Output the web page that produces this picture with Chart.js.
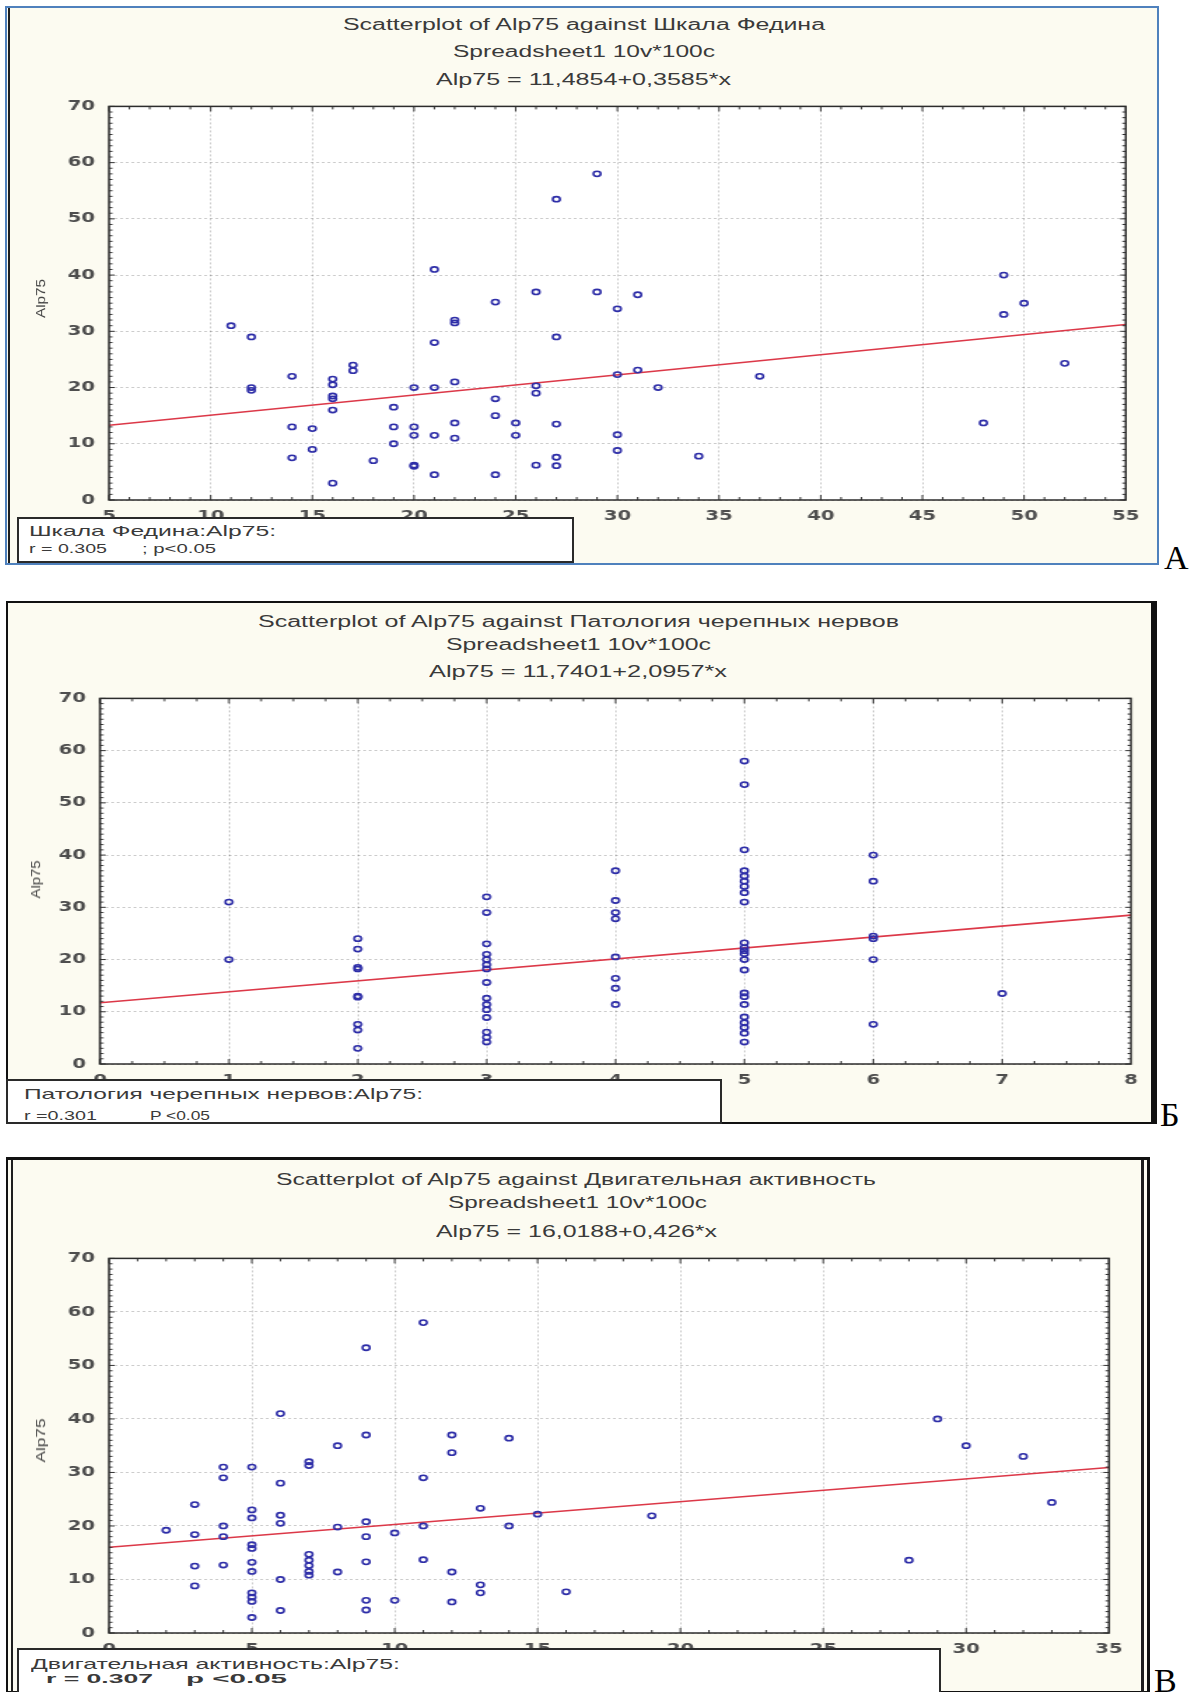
<!DOCTYPE html>
<html>
<head>
<meta charset="utf-8">
<title>Scatterplots of Alp75</title>
<script src="https://cdn.jsdelivr.net/npm/chart.js@4.4.0/dist/chart.umd.min.js"></script>
<style>
  body { margin: 0; width: 1200px; height: 1692px; position: relative; overflow: hidden; background: #fff;
         font-family: "Liberation Sans", Arial, sans-serif; }
  .frame { position: absolute; box-sizing: border-box; background: #fcfbf1; }
  .line { position: absolute; background: #1e1e1e; }
  .wrap { position: absolute; transform-origin: 0 0; }
  .box { position: absolute; box-sizing: border-box; border: 2px solid #2a2a2a; background: #fff; }
  .t { position: absolute; white-space: nowrap; line-height: 1; color: #3a3a3a; transform-origin: 0 50%; }
  .tag { position: absolute; font-family: "Liberation Serif", "Times New Roman", serif; font-size: 34px; line-height: 1; color: #000; }
</style>
</head>
<body>
<script>
// ---- data ----
const alpRange = [0, 70];

// A: Шкала Федина
const fedinaRange = [5, 55];
const fedinaX = [11, 12, 12, 12, 14, 14, 14, 15, 15, 16, 16, 16, 16, 16, 16, 17, 17, 18, 19, 19, 19,
  20, 20, 20, 20, 20, 21, 21, 21, 21, 21, 22, 22, 22, 22, 22, 24, 24, 24, 24, 25, 25,
  26, 26, 26, 26, 27, 27, 27, 27, 27, 29, 29, 30, 30, 30, 30, 31, 31, 32, 34, 37, 48, 49, 49, 50, 52];
const fedinaY = [31, 29, 20, 19.5, 22, 13, 7.5, 12.7, 9, 21.5, 20.5, 18.5, 18, 16, 3, 24, 23, 7, 16.5, 13, 10,
  20, 13, 11.5, 6.2, 6, 41, 28, 20, 11.5, 4.5, 32, 31.5, 21, 13.7, 11, 35.2, 18, 15, 4.5, 13.7, 11.5,
  37, 20.3, 19, 6.2, 53.5, 29, 13.5, 7.6, 6.1, 58, 37, 34, 22.3, 11.6, 8.8, 36.5, 23.1, 20, 7.8, 22, 13.7, 40, 33, 35, 24.3];
const fedinaLineX = [5, 55];
const fedinaLineY = [13.28, 31.2];

// Б: Патология черепных нервов
const nervesRange = [0, 8];
const nervesX = [1, 1,
  2, 2, 2, 2, 2, 2, 2, 2, 2,
  3, 3, 3, 3, 3, 3, 3, 3, 3, 3, 3, 3, 3, 3, 3,
  4, 4, 4, 4, 4, 4, 4, 4,
  5, 5, 5, 5, 5, 5, 5, 5, 5, 5, 5, 5, 5, 5, 5, 5, 5, 5, 5, 5, 5, 5, 5,
  6, 6, 6, 6, 6, 6,
  7];
const nervesY = [31, 20,
  24, 22, 18.5, 18.2, 13, 12.8, 7.6, 6.5, 3,
  32, 29, 23, 21, 20, 19, 18.2, 15.6, 12.6, 11.4, 10.4, 8.9, 6.1, 5.1, 4.2,
  37, 31.3, 29, 27.8, 20.5, 16.4, 14.5, 11.4,
  58, 53.5, 41, 37, 36, 35, 34, 32.8, 31, 23.2, 22.3, 21.7, 21.1, 20, 18, 13.6, 12.9, 11.4, 9, 7.9, 7, 5.9, 4.2,
  40, 35, 24.5, 24, 20, 7.6,
  13.5];
const nervesLineX = [0, 8];
const nervesLineY = [11.74, 28.51];

// В: Двигательная активность
const activityRange = [0, 35];
const activityX = [2, 3, 3, 3, 3, 4, 4, 4, 4, 4,
  5, 5, 5, 5, 5, 5, 5, 5, 5, 5, 5,
  6, 6, 6, 6, 6, 6, 7, 7, 7, 7, 7, 7, 7, 8, 8, 8,
  9, 9, 9, 9, 9, 9, 9, 10, 10, 11, 11, 11, 11, 12, 12, 12, 12,
  13, 13, 13, 14, 14, 15, 16, 19, 28, 29, 30, 32, 33];
const activityY = [19.2, 24, 18.4, 12.5, 8.8, 31, 29, 20, 18, 12.7,
  31, 23, 21.5, 16.5, 15.8, 13.2, 11.5, 7.5, 6.7, 5.9, 2.9,
  41, 28, 22, 20.5, 10, 4.2, 32, 31.3, 14.7, 13.6, 12.6, 11.5, 10.8, 35, 19.8, 11.4,
  53.3, 37, 20.8, 18, 13.3, 6.1, 4.3, 18.7, 6.1, 58, 29, 20, 13.7, 37, 33.7, 11.4, 5.8,
  23.3, 9, 7.5, 36.4, 20, 22.2, 7.7, 21.9, 13.6, 40, 35, 33, 24.4];
const activityLineX = [0, 35];
const activityLineY = [16.02, 30.93];

// ---- drawing ----
const S = 1.4; // the source screenshot is widened, so the plot canvas is stretched the same way
const pts = (xs, ys) => xs.map((x, i) => ({ x, y: ys[i] }));

function el(cls, css, parent) {
  const d = document.createElement('div');
  d.className = cls;
  Object.assign(d.style, css);
  (parent || document.body).appendChild(d);
  return d;
}

// text squeezed/stretched to the span it takes in the picture
function fitText(txt, x0, x1, yc, size, extra) {
  const d = el('t', Object.assign({ fontSize: size + 'px' }, extra || {}));
  d.textContent = txt;
  const w = d.getBoundingClientRect().width;
  d.style.left = x0 + 'px';
  d.style.top = (yc - size / 2) + 'px';
  d.style.transform = `scaleX(${(x1 - x0) / w})`;
  return d;
}

function fitVertical(txt, xc, yc, len, size) {
  const d = el('t', { fontSize: size + 'px', color: '#444' });
  d.textContent = txt;
  const w = d.getBoundingClientRect().width;
  d.style.left = (xc - w / 2) + 'px';
  d.style.top = (yc - size / 2) + 'px';
  d.style.transformOrigin = '50% 50%';
  d.style.transform = `rotate(-90deg) scaleX(${len / w})`;
}

const frameTicks = {
  id: 'frameTicks',
  beforeDraw(chart) {
    const { ctx, chartArea: a } = chart;
    ctx.save();
    ctx.fillStyle = '#fff';
    ctx.fillRect(a.left, a.top, a.width, a.height);
    ctx.restore();
  },
  afterDraw(chart, args, o) {
    const { ctx, chartArea: a, scales: { x, y } } = chart;
    ctx.save();
    ctx.strokeStyle = '#333';
    ctx.lineWidth = 1;
    ctx.beginPath();
    for (let v = x.min; v <= x.max + 1e-9; v += o.xMinor) {
      const px = x.getPixelForValue(v);
      const r = v / o.xStep;
      const L = Math.abs(r - Math.round(r)) < 1e-6 ? 5 : 3;
      ctx.moveTo(px, a.bottom); ctx.lineTo(px, a.bottom - L);
      ctx.moveTo(px, a.top); ctx.lineTo(px, a.top + L);
    }
    for (let v = y.min; v <= y.max + 1e-9; v += o.yMinor) {
      const py = y.getPixelForValue(v);
      const L = v % 10 === 0 ? 4 : 2.5;
      ctx.moveTo(a.left, py); ctx.lineTo(a.left + L, py);
      ctx.moveTo(a.right, py); ctx.lineTo(a.right - L, py);
    }
    ctx.stroke();
    ctx.lineWidth = 1.5;
    ctx.strokeStyle = '#2c2c2c';
    ctx.strokeRect(a.left, a.top, a.width, a.height);
    ctx.restore();
  }
};

function scatterPanel(o) {
  const yAxisW = 50, topPad = 12, xAxisH = 30;
  const [pl, pr, pt, pb] = o.plot;
  const plotW = (pr - pl) / S;
  const cw = Math.ceil(yAxisW + plotW + 14);
  const rightPad = cw - yAxisW - plotW;
  const ch = topPad + (pb - pt) + xAxisH;
  const wrap = el('wrap', {
    left: (pl - yAxisW * S) + 'px', top: (pt - topPad) + 'px',
    width: cw + 'px', height: ch + 'px', transform: `scaleX(${S})`
  });
  const canvas = document.createElement('canvas');
  wrap.appendChild(canvas);

  const tickFont = { family: 'DejaVu Sans', size: 14, weight: 'bold' };
  new Chart(canvas, {
    type: 'scatter',
    data: {
      datasets: [
        {
          type: 'line',
          data: pts(o.lineX, o.lineY),
          borderColor: '#dc3848',
          borderWidth: 1.6,
          pointRadius: 0,
          fill: false,
          order: 2,
        },
        {
          data: pts(o.xs, o.ys),
          pointRadius: 2.6,
          pointBorderWidth: 1.6,
          pointBackgroundColor: 'rgba(0,0,0,0)',
          pointBorderColor: '#2e2ea8',
          order: 1,
        },
      ],
    },
    options: {
      responsive: true,
      maintainAspectRatio: false,
      animation: false,
      layout: { padding: { left: 0, right: rightPad, top: topPad, bottom: 0 } },
      plugins: {
        legend: { display: false },
        tooltip: { enabled: false },
        frameTicks: { xMinor: o.xMinor, xStep: o.xStep, yMinor: 1 },
      },
      scales: {
        x: {
          type: 'linear',
          min: o.xRange[0],
          max: o.xRange[1],
          afterFit: (s) => { s.height = xAxisH; },
          ticks: { stepSize: o.xStep, color: '#4e4e4e', font: tickFont, padding: 8, maxRotation: 0, autoSkip: false },
          grid: { color: 'rgba(0,0,0,0.2)', drawTicks: false },
          border: { display: false, dash: [2, 2] },
        },
        y: {
          min: alpRange[0],
          max: alpRange[1],
          afterFit: (s) => { s.width = yAxisW; },
          ticks: { stepSize: 10, color: '#4e4e4e', font: tickFont, padding: 10 },
          grid: { color: 'rgba(0,0,0,0.2)', drawTicks: false },
          border: { display: false, dash: [2, 2] },
        },
      },
    },
    plugins: [frameTicks],
  });
}

// frames
el('frame', { left: '5px', top: '6px', width: '1154px', height: '559px', border: '2px solid #4f81bd' });
el('line', { left: '8px', top: '8px', width: '2px', height: '555px' });

el('frame', { left: '6px', top: '601px', width: '1151px', height: '523px',
  borderStyle: 'solid', borderColor: '#111', borderWidth: '2px 6px 2px 2px' });

el('frame', { left: '6px', top: '1157px', width: '1144px', height: '536px',
  borderStyle: 'solid', borderColor: '#111', borderWidth: '3px 3px 2px 2px' });
el('line', { left: '11px', top: '1160px', width: '2px', height: '532px' });
el('line', { left: '1141px', top: '1160px', width: '3px', height: '532px' });

// plots
scatterPanel({ plot: [109, 1131, 100, 500], xRange: fedinaRange, xStep: 5, xMinor: 1,
  xs: fedinaX, ys: fedinaY, lineX: fedinaLineX, lineY: fedinaLineY });
scatterPanel({ plot: [100, 1131, 692, 1064], xRange: nervesRange, xStep: 1, xMinor: 0.25,
  xs: nervesX, ys: nervesY, lineX: nervesLineX, lineY: nervesLineY });
scatterPanel({ plot: [109, 1114, 1252, 1633], xRange: activityRange, xStep: 5, xMinor: 1,
  xs: activityX, ys: activityY, lineX: activityLineX, lineY: activityLineY });

// correlation boxes (they cover the lower part of the first tick labels)
el('box', { left: '17px', top: '517px', width: '557px', height: '46px' });
el('box', { left: '6px', top: '1079px', width: '716px', height: '45px' });
el('box', { left: '17px', top: '1648px', width: '924px', height: '46px' });

// titles
fitText('Scatterplot of Alp75 against Шкала Федина', 343, 825, 25, 16);
fitText('Spreadsheet1 10v*100c', 453, 715, 52, 16);
fitText('Alp75 = 11,4854+0,3585*x', 436, 731, 80, 16);

fitText('Scatterplot of Alp75 against Патология черепных нервов', 258, 899, 622, 16);
fitText('Spreadsheet1 10v*100c', 446, 711, 645, 16);
fitText('Alp75 = 11,7401+2,0957*x', 429, 727, 672, 16);

fitText('Scatterplot of Alp75 against Двигательная активность', 276, 876, 1180, 16);
fitText('Spreadsheet1 10v*100c', 448, 707, 1203, 16);
fitText('Alp75 = 16,0188+0,426*x', 436, 717, 1232, 16);

// axis titles
fitVertical('Alp75', 41, 298, 39, 13);
fitVertical('Alp75', 36, 879, 38, 13);
fitVertical('Alp75', 41, 1440, 44, 13);

// box texts
fitText('Шкала Федина:Alp75:', 29, 276, 530, 15);
fitText('r = 0.305', 29, 107, 548, 13);
fitText('; p<0.05', 142, 216, 548, 13);

fitText('Патология черепных нервов:Alp75:', 24, 423, 1093, 15);
fitText('r =0.301', 24, 97, 1115, 13);
fitText('P <0.05', 150, 210, 1115, 13);

fitText('Двигательная активность:Alp75:', 31, 400, 1663, 15);
fitText('r = 0.307', 46, 153, 1678, 13, { fontWeight: 'bold' });
fitText('p <0.05', 186, 287, 1678, 13, { fontWeight: 'bold' });

// panel letters
el('tag', { left: '1164px', top: '541px' }).textContent = 'А';
el('tag', { left: '1160px', top: '1098px' }).textContent = 'Б';
el('tag', { left: '1154px', top: '1664px' }).textContent = 'В';
</script>
</body>
</html>
